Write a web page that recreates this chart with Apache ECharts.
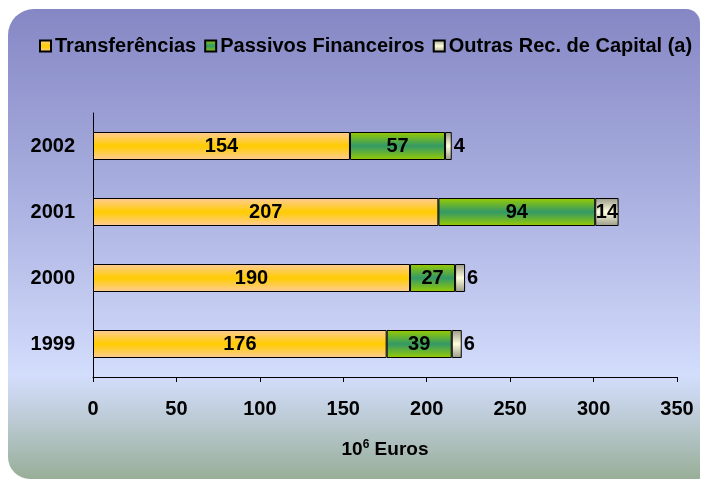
<!DOCTYPE html>
<html>
<head>
<meta charset="utf-8">
<script src="https://cdn.jsdelivr.net/npm/echarts@6/dist/echarts.min.js"></script>
<style>
html, body { margin: 0; padding: 0; background: #ffffff; }
#chart { width: 701px; height: 481px; }
</style>
</head>
<body>
<div id="chart"></div>
<script>
// dados
var years = ['1999', '2000', '2001', '2002'];
var transferencias = [176, 190, 207, 154];
var passivos = [39, 27, 94, 57];
var outras = [6, 6, 14, 4];
var outrasLabelPos = ['right', 'right', 'inside', 'right'];

var myChart = echarts.init(document.getElementById('chart'));

function vgrad(edge, mid) {
	return new echarts.graphic.LinearGradient(0, 0, 0, 1, [
		{ offset: 0, color: edge },
		{ offset: 0.5, color: mid },
		{ offset: 1, color: edge }
	]);
}

var FONT = 'Liberation Sans, Arial, sans-serif';
var labelFont = {
	fontFamily: FONT,
	fontWeight: 'bold',
	fontSize: 20,
	color: '#000'
};

// rotulos da 3a serie
var outrasData = [];
for (var i = 0; i < outras.length; i++) {
	outrasData.push({
		value: outras[i],
		label: { position: outrasLabelPos[i], distance: outrasLabelPos[i] == 'right' ? 2 : 0 }
	});
}

var option = {
	animation: false,
	graphic: [{
		type: 'rect',
		z: -10,
		shape: { x: 8, y: 9, width: 692, height: 470, r: [26, 14, 0, 22] },
		style: {
			fill: new echarts.graphic.LinearGradient(0, 0, 0, 1, [
				{ offset: 0, color: '#8587c4' },
				{ offset: 0.4, color: '#aab0e0' },
				{ offset: 0.78, color: '#d3ddfc' },
				{ offset: 0.84, color: '#c5d2e4' },
				{ offset: 1, color: '#98ae98' }
			])
		}
	}],
	legend: {
		top: 31,
		left: 34,
		icon: 'rect',
		itemWidth: 11,
		itemHeight: 11,
		itemGap: 8,
		textStyle: {
			fontFamily: FONT,
			fontWeight: 'bold',
			fontSize: 20,
			color: '#000',
			padding: [0, 0, 0, -1]
		},
		data: ['Transferências', 'Passivos Financeiros', 'Outras Rec. de Capital (a)']
	},
	grid: {
		left: 93,
		right: 24,
		top: 113,
		bottom: 104
	},
	xAxis: {
		type: 'value',
		min: 0,
		max: 350,
		interval: 50,
		splitLine: { show: false },
		axisLine: { show: true, lineStyle: { color: '#000', width: 1 } },
		axisTick: { show: true, length: 5, lineStyle: { color: '#000' } },
		axisLabel: {
			margin: 22,
			fontFamily: FONT,
			fontWeight: 'bold',
			fontSize: 20,
			color: '#000'
		},
		name: '{a|10}{s|6}{a| Euros}',
		nameLocation: 'middle',
		nameGap: 62,
		nameTextStyle: {
			fontSize: 19,
			fontWeight: 'bold',
			fontFamily: FONT,
			rich: {
				a: { fontFamily: FONT, fontWeight: 'bold', fontSize: 19, color: '#000' },
				s: { fontFamily: FONT, fontWeight: 'bold', fontSize: 12, color: '#000', verticalAlign: 'top', padding: [0, 0, 9, 0] }
			}
		}
	},
	yAxis: {
		type: 'category',
		data: years,
		axisLine: { show: true, lineStyle: { color: '#000', width: 1 } },
		axisTick: { show: false },
		axisLabel: {
			margin: 18,
			fontFamily: FONT,
			fontWeight: 'bold',
			fontSize: 20,
			color: '#000'
		}
	},
	series: [{
		name: 'Transferências',
		type: 'bar',
		stack: 'total',
		barWidth: 28,
		itemStyle: { color: vgrad('#ffcc99', '#ffcc00'), borderColor: '#000', borderWidth: 1 },
		label: Object.assign({ show: true, position: 'inside' }, labelFont),
		data: transferencias
	}, {
		name: 'Passivos Financeiros',
		type: 'bar',
		stack: 'total',
		itemStyle: { color: vgrad('#99cc00', '#339966'), borderColor: '#000', borderWidth: 1 },
		label: Object.assign({ show: true, position: 'inside' }, labelFont),
		data: passivos
	}, {
		name: 'Outras Rec. de Capital (a)',
		type: 'bar',
		stack: 'total',
		itemStyle: { color: vgrad('#999988', '#ffffdd'), borderColor: '#000', borderWidth: 1 },
		label: Object.assign({ show: true, position: 'right' }, labelFont),
		data: outrasData
	}]
};

myChart.setOption(option);
</script>
</body>
</html>
